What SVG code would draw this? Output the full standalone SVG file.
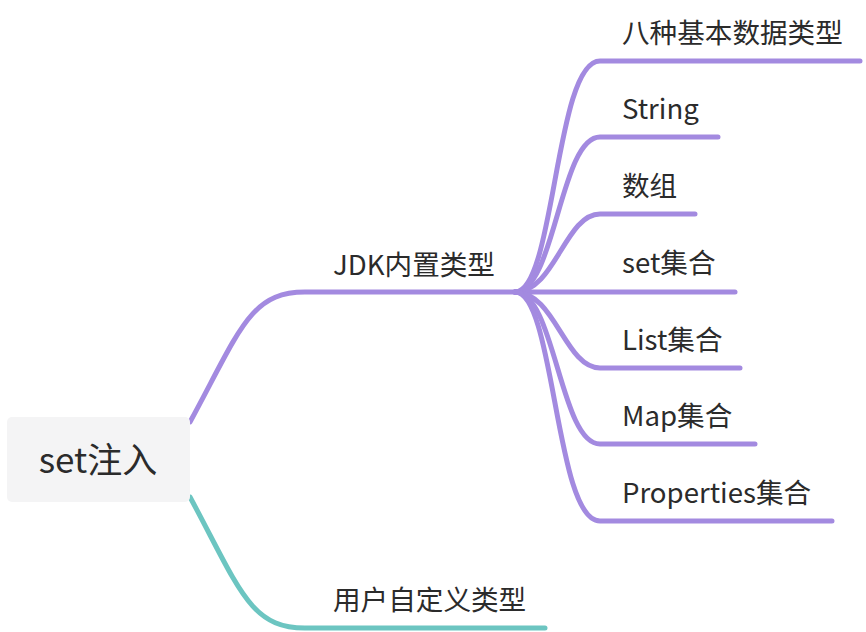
<svg xmlns="http://www.w3.org/2000/svg" width="866" height="632" viewBox="0 0 866 632">
<style>
.t{font-family:"Noto Sans CJK SC","Microsoft YaHei",sans-serif;fill:#2b2b2b;font-size:27.6px}
.p{fill:none;stroke:#a38ae0;stroke-width:5;stroke-linecap:round}
.g{fill:none;stroke:#6cc5c1;stroke-width:5;stroke-linecap:round}
</style>
<rect width="866" height="632" fill="#ffffff"/>
<g id="connectors">
<path class="p" d="M190 422 C240 330 250 292 305 292 L520 292"/>
<path class="g" d="M190 497 C240 590 250 628 305 628 L545 628"/>
<path class="p" d="M515 292 C555 292 555 61 600 61 L860 61"/>
<path class="p" d="M515 292 C555 292 560 137 600 137 L718 137"/>
<path class="p" d="M515 292 C555 292 565 214 600 214 L695 214"/>
<path class="p" d="M515 292 L735 292"/>
<path class="p" d="M515 292 C555 292 565 368 600 368 L740 368"/>
<path class="p" d="M515 292 C555 292 560 444 600 444 L755 444"/>
<path class="p" d="M515 292 C555 292 555 521 600 521 L832 521"/>
</g>
<g id="root">
<rect x="7" y="417" width="183" height="85" rx="5" fill="#f4f4f5"/>
<text class="t" x="98" y="473" text-anchor="middle" style="font-size:35px">set注入</text>
</g>
<g id="jdk"><text class="t" x="333" y="275">JDK内置类型</text></g>
<g id="user"><text class="t" x="333" y="610">用户自定义类型</text></g>
<g id="c1"><text class="t" x="622" y="43">八种基本数据类型</text></g>
<g id="c2"><text class="t" x="622" y="119">String</text></g>
<g id="c3"><text class="t" x="622" y="196">数组</text></g>
<g id="c4"><text class="t" x="622" y="273">set集合</text></g>
<g id="c5"><text class="t" x="622" y="350">List集合</text></g>
<g id="c6"><text class="t" x="622" y="426">Map集合</text></g>
<g id="c7"><text class="t" x="622" y="503">Properties集合</text></g>
</svg>
